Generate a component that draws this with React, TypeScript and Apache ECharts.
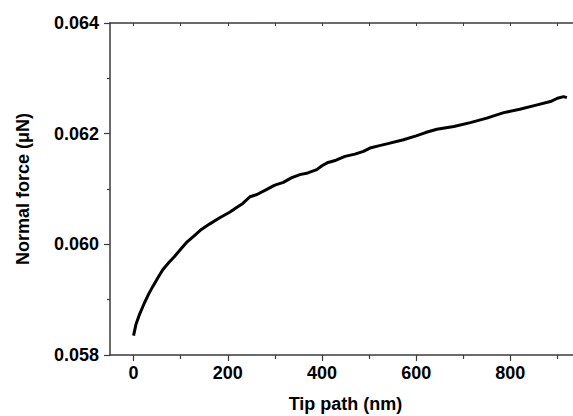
import React, { useEffect, useRef } from "react";
import * as echarts from "echarts";

const tipPath = [0, 5, 12, 23, 32, 41, 52, 62, 75, 87, 100, 112, 128, 144, 162, 183, 204, 218, 232, 247, 262, 282, 300, 318, 335, 353, 370, 389, 400, 413, 430, 449, 470, 488, 502, 520, 540, 573, 600, 620, 644, 680, 715, 750, 786, 820, 857, 885, 900, 913, 920];
const normalForce = [0.05835, 0.05855, 0.05872, 0.05894, 0.0591, 0.05924, 0.0594, 0.05954, 0.05967, 0.05978, 0.05991, 0.06003, 0.06015, 0.06027, 0.06037, 0.06048, 0.06058, 0.06066, 0.06074, 0.06086, 0.0609, 0.06099, 0.06107, 0.06112, 0.0612, 0.06126, 0.06129, 0.06135, 0.06142, 0.06148, 0.06152, 0.06159, 0.06163, 0.06168, 0.06174, 0.06178, 0.06182, 0.06189, 0.06196, 0.06202, 0.06208, 0.06213, 0.0622, 0.06228, 0.06238, 0.06244, 0.06252, 0.06258, 0.06264, 0.06267, 0.06265];

const xMajor = [0, 200, 400, 600, 800];
const xMinor = [100, 300, 500, 700, 900];
const xAll = [0, 100, 200, 300, 400, 500, 600, 700, 800, 900];
const yMajor = [0.058, 0.06, 0.062, 0.064];
const yMinor = [0.059, 0.061, 0.063];

const FONT = "Liberation Sans, Arial, sans-serif";
const AXC = "#3a3a3a";

export default function App() {
  const ref = useRef<HTMLDivElement>(null);
  useEffect(() => {
    if (!ref.current) return;
    const chart = echarts.init(ref.current, null, { renderer: "svg" });
    const xBase = { type: "value", min: -50, max: 950, gridIndex: 0 };
    const yBase = { type: "value", min: 0.058, max: 0.064, gridIndex: 0 };
    chart.setOption({
      animation: false,
      backgroundColor: "#ffffff",
      grid: { left: 110, top: 23, right: -8, bottom: 61, containLabel: false, outerBoundsMode: "none" },
      xAxis: [
        {
          ...xBase,
          position: "bottom",
          name: "Tip path (nm)",
          nameLocation: "middle",
          nameGap: 40,
          nameTextStyle: { fontFamily: FONT, fontWeight: "bold", fontSize: 18, color: "#000" },
          axisLine: { show: true, onZero: false, lineStyle: { color: AXC, width: 1.5 } },
          axisTick: { show: true, inside: false, length: 6, customValues: xMajor, lineStyle: { color: AXC, width: 1.2 } },
          axisLabel: { show: true, customValues: xMajor, margin: 9, fontFamily: FONT, fontWeight: "bold", fontSize: 18, color: "#000" },
          splitLine: { show: false },
        },
        {
          ...xBase,
          position: "bottom",
          axisLine: { show: false, onZero: false },
          axisTick: { show: true, inside: false, length: 4, customValues: xMinor, lineStyle: { color: AXC, width: 1.2 } },
          axisLabel: { show: false },
          splitLine: { show: false },
        },
        {
          ...xBase,
          position: "top",
          axisLine: { show: true, onZero: false, lineStyle: { color: AXC, width: 1.5 } },
          axisTick: { show: true, inside: true, length: 3, customValues: xAll, lineStyle: { color: AXC, width: 1 } },
          axisLabel: { show: false },
          splitLine: { show: false },
        },
      ],
      yAxis: [
        {
          ...yBase,
          position: "left",
          name: "Normal force (\u03bcN)",
          nameLocation: "middle",
          nameRotate: 90,
          nameGap: 78,
          nameTextStyle: { fontFamily: FONT, fontWeight: "bold", fontSize: 18, color: "#000" },
          axisLine: { show: true, onZero: false, lineStyle: { color: AXC, width: 1.5 } },
          axisTick: { show: true, inside: false, length: 6, customValues: yMajor, lineStyle: { color: AXC, width: 1.2 } },
          axisLabel: {
            show: true,
            customValues: yMajor,
            margin: 11,
            fontFamily: FONT,
            fontWeight: "bold",
            fontSize: 18,
            color: "#000",
            formatter: (v: number) => v.toFixed(3),
          },
          splitLine: { show: false },
        },
        {
          ...yBase,
          position: "left",
          axisLine: { show: false, onZero: false },
          axisTick: { show: true, inside: false, length: 3, customValues: yMinor, lineStyle: { color: AXC, width: 1.2 } },
          axisLabel: { show: false },
          splitLine: { show: false },
        },
      ],
      series: [
        {
          type: "line",
          xAxisIndex: 0,
          yAxisIndex: 0,
          data: tipPath.map((x, i) => [x, normalForce[i]]),
          showSymbol: false,
          symbol: "none",
          lineStyle: { color: "#000", width: 3 },
          smooth: false,
        },
      ],
    });
    return () => chart.dispose();
  }, []);
  return <div ref={ref} style={{ position: "absolute", left: 0, top: 0, width: 573, height: 416 }} />;
}
